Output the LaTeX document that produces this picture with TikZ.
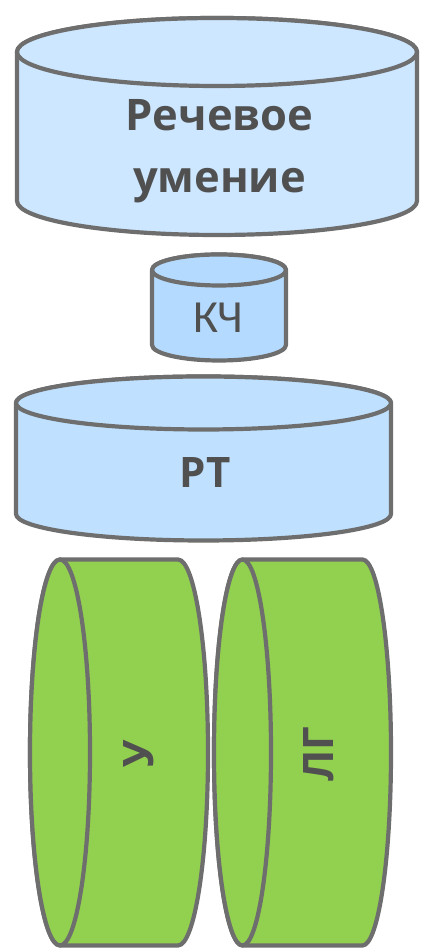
\documentclass[tikz,border=0pt]{standalone}
\usepackage{fontspec}
\setmainfont{Carlito}
\newfontfamily\boldsans{Open Sans}
\definecolor{edge}{HTML}{6E6E6E}
\definecolor{txt}{HTML}{505050}
\definecolor{blueA}{HTML}{CCE7FF}
\definecolor{blueB}{HTML}{B4DBFF}
\definecolor{blueC}{HTML}{BFE1FF}
\definecolor{greenA}{HTML}{92D050}
\tikzset{
  cyl/.style={draw=edge, line width=4.2pt, line join=round},
  bigtxt/.style={text=txt, font=\fontsize{43.5}{50}\boldsans\bfseries, inner sep=0pt, anchor=base},
  midtxt/.style={text=txt, font=\fontsize{42}{50}\boldsans\bfseries, inner sep=0pt, anchor=base},
  regtxt/.style={text=txt, font=\fontsize{46}{55}\selectfont, inner sep=0pt, anchor=base},
}
% vertical cylinder: cx, top-centre y, bottom-centre y, rx, ry, fill
\newcommand{\vcyl}[6]{%
  \path[cyl, fill=#6] (#1-#4,#2) -- (#1-#4,#3)
    arc[start angle=180, end angle=360, x radius=#4, y radius=#5]
    -- (#1+#4,#2)
    arc[start angle=0, end angle=180, x radius=#4, y radius=#5] -- cycle;
  \path[cyl, fill=#6] (#1,#2) ellipse[x radius=#4, y radius=#5];
}
% horizontal cylinder: left-centre x, right-centre x, cy, rx, ry, fill
\newcommand{\hcyl}[6]{%
  \path[cyl, fill=#6] (#1,#3+#5) -- (#2,#3+#5)
    arc[start angle=90, end angle=-90, x radius=#4, y radius=#5]
    -- (#1,#3-#5)
    arc[start angle=270, end angle=90, x radius=#4, y radius=#5] -- cycle;
  \path[cyl, fill=#6] (#1,#3) ellipse[x radius=#4, y radius=#5];
}
\begin{document}
\begin{tikzpicture}[x=1pt,y=1pt]
\useasboundingbox (0,0) rectangle (424,949);
% top cylinder
\vcyl{217}{897}{748}{200}{34}{blueA}
\node[bigtxt] (t1) at (219.5,818) {Речевое};
\node[bigtxt] (t2) at (219.5,756) {умение};
% KCh cylinder
\vcyl{219}{679}{604}{67}{15.5}{blueB}
\node[regtxt] (kch) at (218.5,616) {КЧ};
% RT cylinder
\vcyl{203.5}{546}{435}{187.5}{26.5}{blueC}
\node[midtxt] (rt) at (205,461) {РТ};
% green cylinders
\hcyl{60}{178}{196.5}{30}{193}{greenA}
\hcyl{242.5}{362.5}{196.5}{28.5}{193}{greenA}
\node[midtxt, rotate=90] (u) at (153,195.5) {У};
\node[midtxt, rotate=90] (lg) at (333,194.5) {ЛГ};
\end{tikzpicture}
\end{document}
